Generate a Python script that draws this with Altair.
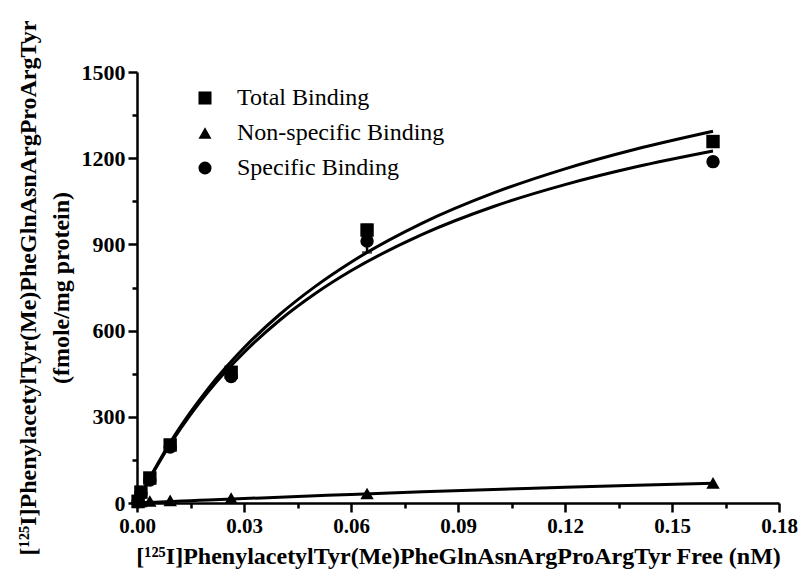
import altair as alt
import pandas as pd

# ---------------- data ----------------
series_names = ["Total Binding", "Non-specific Binding", "Specific Binding"]
series_shapes = ["square", "triangle-up", "circle"]

conc_nM = [0.0003, 0.0011, 0.0036, 0.0093, 0.0264, 0.0645, 0.1615]
total_binding = [6, 38, 87, 202, 455, 950, 1258]
nonspecific_binding = [2, 5, 7, 9, 17, 33, 70]
specific_binding = [4, 33, 80, 195, 440, 912, 1188]

err_conc = [0.0645, 0.0645]
err_series = ["Total Binding", "Specific Binding"]
err_low = [930, 872]
err_high = [968, 945]

fit_conc = [0, 0.0025, 0.005, 0.01, 0.015, 0.02, 0.03, 0.04, 0.05, 0.06,
            0.08, 0.10, 0.12, 0.14, 0.1615]
fit_total = [0, 62, 119, 224, 316, 399, 540, 656, 754, 838,
             974, 1079, 1163, 1232, 1294]
fit_nonspecific = [0, 1.5, 3, 5.5, 8, 10.5, 15.5, 20, 25, 30,
                   39, 47, 55, 62, 69]
fit_specific = [0, 60, 116, 218, 308, 388, 524, 636, 729, 808,
                935, 1032, 1108, 1170, 1225]

x_ticks = [0, 0.015, 0.03, 0.045, 0.06, 0.075, 0.09, 0.105, 0.12, 0.135,
           0.15, 0.165, 0.18]
y_ticks = [0, 150, 300, 450, 600, 750, 900, 1050, 1200, 1350, 1500]

x_title = "[¹²⁵I]PhenylacetylTyr(Me)PheGlnAsnArgProArgTyr Free (nM)"
y_title = ["[¹²⁵I]PhenylacetylTyr(Me)PheGlnAsnArgProArgTyr",
           "(fmole/mg protein)"]

# ---------------- tables ----------------
points_df = pd.concat([
    pd.DataFrame({"conc": conc_nM, "value": total_binding, "series": series_names[0]}),
    pd.DataFrame({"conc": conc_nM, "value": nonspecific_binding, "series": series_names[1]}),
    pd.DataFrame({"conc": conc_nM, "value": specific_binding, "series": series_names[2]}),
], ignore_index=True)

fits_df = pd.concat([
    pd.DataFrame({"conc": fit_conc, "value": fit_total, "series": series_names[0]}),
    pd.DataFrame({"conc": fit_conc, "value": fit_nonspecific, "series": series_names[1]}),
    pd.DataFrame({"conc": fit_conc, "value": fit_specific, "series": series_names[2]}),
], ignore_index=True)

err_df = pd.DataFrame({"conc": err_conc, "value": err_low, "high": err_high,
                       "series": err_series})

FONT = "Liberation Serif"

x_scale = alt.Scale(domain=[0, 0.18], nice=False, zero=False)
y_scale = alt.Scale(domain=[0, 1500], nice=False, zero=False)

x_major = "round(datum.value*200) % 6 === 0"
y_major = "datum.value % 300 === 0"

x_axis = alt.Axis(
    values=x_ticks, title=x_title, grid=False,
    labelExpr=f"{x_major} ? format(datum.value, '.2f') : ''",
    tickSize={"condition": {"test": x_major, "value": 9}, "value": 5},
    labelFlush=False, labelOverlap=False,
    labelFont=FONT, labelFontSize=21, labelFontWeight="bold", labelColor="black",
    labelPadding=3,
    titleFont=FONT, titleFontSize=24, titleFontWeight="bold", titleColor="black",
    titlePadding=8,
    domainColor="black", domainWidth=2.5, tickColor="black", tickWidth=2.5,
)
y_axis = alt.Axis(
    values=y_ticks, title=y_title, grid=False,
    labelExpr=f"{y_major} ? format(datum.value, 'd') : ''",
    tickSize={"condition": {"test": y_major, "value": 9}, "value": 5},
    labelFlush=False, labelOverlap=False,
    labelFont=FONT, labelFontSize=22, labelFontWeight="bold", labelColor="black",
    labelPadding=3,
    titleFont=FONT, titleFontSize=24, titleFontWeight="bold", titleColor="black",
    titleLineHeight=33, titlePadding=8,
    domainColor="black", domainWidth=2.5, tickColor="black", tickWidth=2.5,
)

X = alt.X("conc:Q", scale=x_scale, axis=x_axis)
Y = alt.Y("value:Q", scale=y_scale, axis=y_axis)

lines = alt.Chart(fits_df).mark_line(
    color="black", strokeWidth=3, interpolate="monotone"
).encode(x=X, y=Y, detail="series:N")

err_rule = alt.Chart(err_df).mark_rule(color="black", strokeWidth=2.5).encode(
    x=X, y=Y, y2="high:Q")
err_cap = alt.Chart(err_df).mark_tick(
    color="black", thickness=2.5, size=10, orient="horizontal"
).encode(x=X, y=Y)
err_cap_hi = alt.Chart(err_df).mark_tick(
    color="black", thickness=2.5, size=10, orient="horizontal"
).encode(x=X, y=alt.Y("high:Q", scale=y_scale, axis=y_axis))

points = alt.Chart(points_df).mark_point(
    filled=True, size=180, opacity=1
).encode(
    x=X, y=Y,
    color=alt.value("black"),
    shape=alt.Shape(
        "series:N",
        scale=alt.Scale(domain=series_names, range=series_shapes),
        sort=series_names,
        legend=alt.Legend(
            title=None, orient="none", legendX=56, legendY=14,
            labelFont=FONT, labelFontSize=24, labelColor="black",
            labelOffset=20, rowPadding=11, padding=0,
            symbolSize=170, symbolFillColor="black", symbolStrokeColor="black",
            symbolOpacity=1, symbolStrokeWidth=0, labelLimit=400,
        ),
    ),
)

chart = alt.layer(lines, err_rule, err_cap, err_cap_hi, points).properties(
    width=642, height=431,
    autosize=alt.AutoSizeParams(type="none"),
    padding={"left": 129, "top": 64, "right": 20, "bottom": 68},
    background="white",
).configure_view(stroke=None)

chart.save("out.html", embed_options={"renderer": "svg", "actions": False})
